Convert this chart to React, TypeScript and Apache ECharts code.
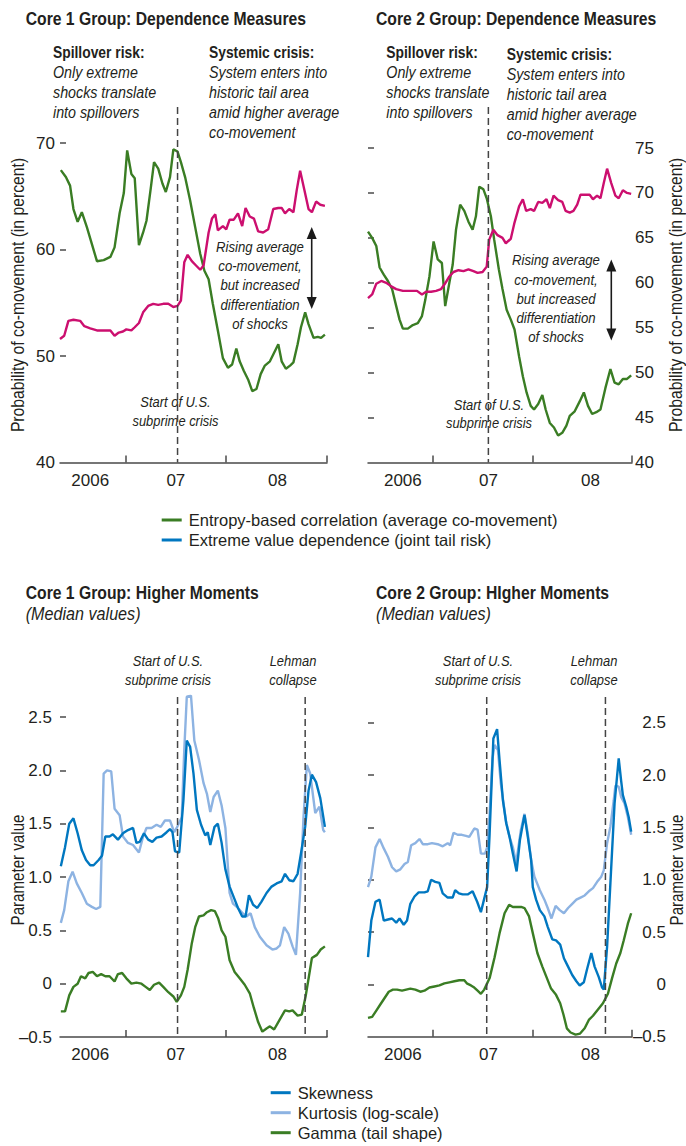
import React, { useEffect, useRef } from "react";
import * as echarts from "echarts";

const FONT = "'Liberation Sans', Arial, Helvetica, sans-serif";
const TEXT = "#231f20";
const AXIS = "#4a4a4a";
const GREEN = "#3a7d24";
const MAGENTA = "#cc0f6f";
const SKEW = "#0077c0";
const KURT = "#8db3e2";
const NARROW = 0.85;

// x axis: months counted from January 2006
const xMin = 4.2;
const xMax = 36;
const yearStarts = [12, 24, 36];
const yearLabelPosLeft = [7.8, 18, 30.1];
const yearLabelPosRight = [8.4, 18.7, 31.0];
const yearLabels = ["2006", "07", "08"];

// Core 1 – dependence measures
const c1EntropyMonths = [4.3,4.9,5.4,5.8,6.3,6.8,7.4,8.0,8.6,9.4,10.2,10.7,11.3,11.8,12.2,12.7,13.1,13.6,14.1,14.5,15.0,15.4,15.9,16.4,16.8,17.3,17.7,18.2,18.6,19.1,19.7,20.3,20.9,21.4,21.9,22.4,23.0,23.6,24.2,24.7,25.2,25.6,26.1,26.6,27.1,27.6,28.1,28.6,29.2,29.7,30.2,30.6,31.1,31.6,32.0,32.5,32.9,33.4,33.8,34.4,34.9,35.3,35.75];
const c1EntropyValues = [67.45,66.8,66.0,63.8,62.6,63.5,62.1,60.5,58.9,59.0,59.3,60.2,63.4,65.3,69.3,67.1,66.7,60.4,61.6,62.7,65.7,68.2,67.6,66.2,65.4,66.8,69.4,69.2,68.2,66.8,64.6,62.1,59.6,58.0,57.2,54.9,52.4,49.8,48.9,49.2,50.7,49.5,48.6,47.8,46.7,46.9,48.3,49.1,49.5,50.3,51.1,49.5,48.8,49.1,49.4,51.1,52.7,54.1,53.0,51.7,51.8,51.7,52.0];
const c1ExtremeMonths = [4.2,4.7,5.2,5.8,6.6,7.1,7.8,8.6,9.4,10.2,10.7,11.2,11.7,12.1,12.7,13.1,13.6,14.1,14.7,15.3,15.9,16.5,17.1,17.7,18.2,18.6,19.0,19.4,19.9,20.4,20.9,21.3,21.9,22.3,22.7,23.0,23.6,24.0,24.4,24.9,25.4,25.9,26.3,26.8,27.3,27.8,28.4,29.0,29.6,30.2,30.6,31.0,31.5,32.0,32.4,32.8,33.3,33.8,34.2,34.7,35.2,35.75];
const c1ExtremeValues = [51.6,51.9,53.3,53.4,53.3,52.8,52.6,52.4,52.4,52.4,51.9,52.2,52.3,52.5,52.4,52.7,53.1,54.1,54.7,54.9,54.8,54.9,54.9,54.6,54.7,55.2,58.8,59.5,58.9,58.5,58.1,58.5,61.6,62.9,63.3,61.8,62.2,61.9,62.8,62.8,63.4,62.2,63.9,63.1,62.9,61.7,61.6,61.9,63.8,63.9,63.9,63.4,63.8,63.5,65.6,67.4,65.6,63.8,63.5,64.5,64.2,64.1];

// Core 2 – dependence measures
const c2EntropyMonths = [4.2,4.7,5.2,5.6,6.1,6.6,7.1,7.6,8.0,8.4,9.0,9.6,10.2,10.7,11.1,11.6,12.1,12.6,13.1,13.5,14.0,14.4,14.8,15.3,15.8,16.3,16.8,17.2,17.6,18.1,18.5,19.0,19.4,19.96,20.4,20.9,21.4,21.85,22.4,22.85,23.3,23.8,24.2,24.7,25.2,25.6,26.1,26.6,27.1,27.6,28.1,28.5,29.1,29.7,30.2,30.7,31.2,31.7,32.2,32.8,33.4,33.9,34.4,34.9,35.4,35.9];
const c2EntropyValues = [65.7,65.0,64.1,61.7,60.9,60.2,59.3,57.4,55.9,54.9,54.9,55.3,55.5,56.3,58.1,60.7,64.6,62.6,62.2,57.4,60.0,62.0,65.9,68.7,68.0,66.8,65.9,67.4,70.7,70.4,69.4,67.4,64.8,61.5,59.3,57.0,55.9,54.8,51.8,49.6,47.8,46.3,45.9,46.5,47.5,45.9,44.4,43.9,43.0,43.3,44.1,45.2,45.7,46.8,47.8,46.3,45.4,45.6,45.9,48.3,50.4,48.9,48.7,49.3,49.3,49.7];
const c2ExtremeMonths = [4.2,4.7,5.2,5.8,6.4,7.0,7.6,8.4,9.2,10.1,10.7,11.2,11.8,12.4,13.0,13.4,14.0,14.5,15.1,15.7,16.3,16.9,17.4,18.0,18.5,18.8,19.3,19.8,20.4,20.8,21.4,21.85,22.4,22.85,23.25,23.8,24.2,24.7,25.2,25.7,26.1,26.55,27.1,27.6,28.0,28.5,28.95,29.4,29.8,30.4,30.9,31.3,31.8,32.2,32.6,33.0,33.5,34.0,34.4,34.9,35.4,35.9];
const c2ExtremeValues = [58.3,58.7,59.9,60.2,60.0,59.6,59.3,59.1,59.1,59.1,58.7,59.0,59.0,59.1,59.3,59.8,60.7,61.2,61.4,61.3,61.5,61.3,61.1,61.2,61.8,64.8,65.9,65.3,65.0,64.4,64.9,66.7,68.5,69.3,68.0,68.2,68.0,69.0,68.9,69.3,68.3,69.7,69.2,69.0,68.0,67.8,68.0,68.7,69.8,69.8,69.8,69.3,69.7,69.4,71.1,72.7,71.1,69.7,69.4,70.3,70.0,69.9];

// Core 1 – higher moments
const c1SkewMonths = [4.3,4.8,5.3,5.8,6.3,6.8,7.3,7.8,8.2,8.8,9.2,9.6,10.1,10.5,11.1,11.7,12.3,12.9,13.3,13.7,14.2,14.7,15.2,15.7,16.3,16.9,17.3,17.6,17.9,18.4,18.9,19.3,19.7,20.1,20.5,21.0,21.5,21.8,22.1,22.6,23.0,23.45,23.9,24.4,24.95,25.4,25.9,26.3,26.7,27.2,27.7,28.2,28.8,29.4,30.0,30.6,31.0,31.5,32.0,32.5,32.9,33.4,33.8,34.2,34.7,35.2,35.75];
const c1SkewValues = [1.10,1.28,1.50,1.55,1.41,1.25,1.16,1.11,1.11,1.16,1.20,1.38,1.38,1.40,1.35,1.41,1.44,1.46,1.32,1.33,1.41,1.35,1.33,1.37,1.38,1.42,1.45,1.42,1.24,1.23,1.72,2.28,2.22,1.97,1.63,1.49,1.39,1.42,1.30,1.47,1.50,1.32,1.07,0.91,0.80,0.71,0.63,0.63,0.83,0.74,0.71,0.77,0.85,0.91,0.94,0.96,1.03,0.97,0.96,1.03,1.22,1.47,1.81,1.96,1.89,1.74,1.47];
const c1KurtMonths = [4.3,4.7,5.2,5.7,6.2,6.8,7.4,8.0,8.5,9.0,9.4,9.8,10.3,10.7,11.3,11.7,12.3,12.9,13.6,14.1,14.5,15.1,15.7,16.2,16.7,17.3,17.8,18.1,18.7,19.0,19.3,19.8,20.2,20.75,21.3,21.7,22.1,22.5,23.0,23.45,23.9,24.4,24.8,25.4,25.95,26.4,26.9,27.4,28.0,28.8,29.5,30.0,30.4,30.9,31.4,31.9,32.3,32.8,33.2,33.6,34.0,34.6,35.1,35.55,35.75];
const c1KurtValues = [0.57,0.69,0.96,1.05,0.94,0.85,0.75,0.72,0.70,0.72,1.97,2.00,1.99,1.64,1.58,1.38,1.32,1.30,1.23,1.38,1.46,1.46,1.49,1.47,1.53,1.53,1.42,1.46,1.56,2.19,2.69,2.70,2.28,2.10,1.88,1.78,1.61,1.75,1.81,1.67,1.46,0.85,0.75,0.71,0.66,0.63,0.66,0.53,0.44,0.36,0.32,0.33,0.36,0.53,0.47,0.35,0.27,0.85,1.56,2.05,1.97,1.60,1.66,1.44,1.42];
const c1GammaMonths = [4.3,4.8,5.3,5.8,6.3,6.7,7.2,7.6,8.1,8.6,9.1,9.6,10.1,10.7,11.1,11.6,12.1,12.7,13.3,13.9,14.4,14.9,15.4,16.0,16.5,17.1,17.7,18.1,18.6,19.0,19.4,19.9,20.3,20.75,21.3,21.7,22.2,22.65,23.05,23.45,23.9,24.4,25.0,25.6,26.2,26.8,27.3,27.8,28.3,28.8,29.2,29.7,30.2,31.0,31.5,31.9,32.5,33.0,33.45,33.85,34.2,34.8,35.25,35.75];
const c1GammaValues = [-0.26,-0.26,-0.11,-0.03,0.00,0.07,0.05,0.10,0.11,0.07,0.09,0.07,0.07,0.02,0.09,0.10,0.05,0.00,0.01,0.00,-0.03,-0.06,-0.01,0.01,-0.03,-0.08,-0.12,-0.17,-0.11,-0.03,0.13,0.38,0.53,0.63,0.64,0.67,0.69,0.68,0.61,0.50,0.44,0.22,0.11,0.05,-0.01,-0.09,-0.23,-0.36,-0.45,-0.42,-0.40,-0.43,-0.36,-0.25,-0.26,-0.25,-0.30,-0.29,-0.12,0.07,0.24,0.27,0.32,0.35];

// Core 2 – higher moments
const c2SkewMonths = [4.2,4.6,5.1,5.6,6.1,6.6,7.1,7.6,8.0,8.5,8.9,9.3,9.8,10.3,11.0,11.4,11.8,12.3,12.8,13.2,13.8,14.4,14.7,15.15,15.6,16.2,16.8,17.35,17.8,18.2,18.55,18.85,19.3,19.75,20.05,20.45,20.85,21.25,21.65,22.1,22.5,23.05,23.45,23.85,24.05,24.45,24.9,25.45,25.85,26.4,26.85,27.35,27.8,28.3,28.8,29.3,29.7,30.2,30.6,31.1,31.5,32.0,32.4,32.6,33.0,33.4,33.9,34.4,34.7,34.9,35.3,35.6,35.9];
const c2SkewValues = [0.26,0.61,0.79,0.81,0.61,0.62,0.63,0.59,0.63,0.57,0.61,0.77,0.84,0.88,0.88,0.89,1.00,0.98,0.97,0.87,0.83,0.83,0.90,0.87,0.86,0.86,0.89,0.79,0.69,0.82,0.93,1.44,2.35,2.44,2.14,1.76,1.54,1.41,1.25,1.08,1.38,1.62,1.41,1.19,0.93,0.81,0.71,0.65,0.55,0.43,0.42,0.38,0.25,0.17,0.09,0.03,-0.01,0.02,0.15,0.30,0.17,0.07,-0.03,-0.05,0.36,0.97,1.73,2.16,1.94,1.81,1.70,1.60,1.46];
const c2KurtMonths = [4.2,4.6,5.1,5.6,6.1,6.6,7.1,7.6,8.1,8.6,9.0,9.4,9.9,10.4,10.8,11.4,11.9,12.6,13.2,13.8,14.1,14.5,15.0,15.5,16.0,16.4,17.0,17.4,17.8,18.3,18.55,18.85,19.2,19.45,19.85,20.2,20.8,21.25,21.65,22.05,22.6,23.05,23.45,23.85,24.25,24.9,25.45,25.85,26.3,26.8,27.3,27.8,28.3,28.8,29.3,29.8,30.3,30.8,31.3,31.8,32.3,32.6,33.0,33.4,33.8,34.0,34.4,34.7,35.1,35.5,35.9];
const c2KurtValues = [0.93,1.03,1.31,1.39,1.30,1.22,1.12,1.08,1.10,1.15,1.17,1.33,1.35,1.39,1.34,1.34,1.35,1.34,1.32,1.35,1.33,1.45,1.43,1.43,1.42,1.41,1.49,1.48,1.25,1.25,1.31,1.63,2.16,2.29,2.24,1.92,1.57,1.41,1.31,1.16,1.47,1.63,1.44,1.19,1.03,0.90,0.81,0.73,0.63,0.75,0.71,0.68,0.73,0.77,0.81,0.83,0.85,0.89,0.92,0.98,1.03,1.09,1.35,1.51,1.76,1.90,1.89,1.79,1.73,1.60,1.43];
const c2GammaMonths = [4.2,4.7,5.2,5.7,6.2,6.7,7.2,7.7,8.3,8.8,9.3,9.9,10.5,11.0,11.6,12.2,12.8,13.4,14.0,14.6,15.2,15.8,16.1,16.6,17.0,17.4,17.8,18.2,18.85,19.45,20.05,20.65,21.2,21.65,22.1,22.65,23.05,23.6,24.05,24.6,25.2,25.75,26.25,26.85,27.35,27.75,28.15,28.6,29.2,29.75,30.3,30.8,31.3,31.9,32.5,33.1,33.6,34.1,34.6,35.0,35.5,35.9];
const c2GammaValues = [-0.32,-0.31,-0.25,-0.19,-0.13,-0.07,-0.05,-0.05,-0.06,-0.05,-0.04,-0.05,-0.07,-0.06,-0.03,-0.02,-0.01,0.01,0.02,0.03,0.04,0.04,0.01,-0.01,-0.03,-0.06,-0.09,-0.05,0.06,0.26,0.49,0.68,0.76,0.74,0.74,0.74,0.73,0.65,0.49,0.30,0.17,0.06,-0.04,-0.10,-0.18,-0.29,-0.42,-0.46,-0.48,-0.47,-0.42,-0.34,-0.30,-0.24,-0.18,-0.09,0.06,0.20,0.30,0.42,0.58,0.68];

// events (months from Jan 2006), per panel as drawn
const subprimeMonth = [18.2, 18.7, 18.2, 18.5];
const lehmanMonth = [33.4, 32.8];

// y axes
const depTicksC1 = [40, 50, 60, 70];
const depTicksC2 = [40, 45, 50, 55, 60, 65, 70, 75];
const momTicks = [-0.5, 0, 0.5, 1, 1.5, 2, 2.5];

const NAME_ENT = "Entropy-based correlation (average co-movement)";
const NAME_EXT = "Extreme value dependence (joint tail risk)";
const NAME_SKEW = "Skewness";
const NAME_KURT = "Kurtosis (log-scale)";
const NAME_GAMMA = "Gamma (tail shape)";

const zip = (a: number[], b: number[]) => a.map((m, i) => [m, b[i]]);

const momLabel = (v: number) => (Math.abs(v) < 1e-9 ? "0" : v < 0 ? "\u2013" + Math.abs(v).toFixed(1) : v.toFixed(1));

function xAxisFor(gridIndex: number, labelPos: number[]) {
  return {
    type: "value",
    gridIndex,
    min: xMin,
    max: xMax,
    axisLine: { show: true, onZero: false, lineStyle: { color: AXIS, width: 1.5 } },
    axisTick: { show: true, inside: true, length: 7, customValues: yearStarts, lineStyle: { color: AXIS, width: 1.5 } },
    axisLabel: {
      customValues: labelPos,
      formatter: (v: number) => {
        const i = labelPos.findIndex((p) => Math.abs(p - v) < 0.01);
        return i >= 0 ? yearLabels[i] : "";
      },
      color: TEXT,
      fontFamily: FONT,
      fontSize: 17,
      margin: 9,
    },
    splitLine: { show: false },
  };
}

function yAxisFor(gridIndex: number, min: number, max: number, position: string, opts: any) {
  return {
    type: "value",
    gridIndex,
    min,
    max,
    position,
    axisLine: { show: false },
    axisTick: opts.ticks
      ? { show: true, inside: true, length: 6, customValues: opts.ticks, lineStyle: { color: AXIS, width: 1.5 } }
      : { show: false },
    axisLabel: opts.labels
      ? {
          show: true,
          customValues: opts.labels,
          formatter: opts.formatter,
          color: TEXT,
          fontFamily: FONT,
          fontSize: 17,
          margin: opts.margin,
          align: opts.align,
        }
      : { show: false },
    splitLine: { show: false },
  };
}

function line(name: string, data: number[][], color: string, grid: number, yIdx: number, width = 2.4) {
  return {
    type: "line",
    name,
    data,
    xAxisIndex: grid,
    yAxisIndex: yIdx,
    showSymbol: false,
    symbol: "none",
    lineStyle: { color, width },
    itemStyle: { color },
    z: 3,
  };
}

function txt(x: number, y: number, text: string, o: any = {}) {
  const align = o.align || "left";
  return {
    type: "text",
    x,
    y,
    silent: true,
    rotation: o.rotation || 0,
    scaleX: NARROW,
    style: {
      text,
      fill: TEXT,
      fontFamily: FONT,
      fontSize: o.size || 17,
      fontWeight: o.bold ? "bold" : "normal",
      fontStyle: o.italic ? "italic" : "normal",
      lineHeight: o.lh || 20,
      textAlign: align,
      align,
      textVerticalAlign: o.valign || "top",
      verticalAlign: o.valign || "top",
    },
  };
}

function arrow(x: number, y1: number, y2: number) {
  const hw = 5;
  const hl = 12;
  return [
    { type: "line", silent: true, shape: { x1: x, y1: y1 + hl - 2, x2: x, y2: y2 - hl + 2 }, style: { stroke: "#1a1a1a", lineWidth: 1.6 } },
    { type: "polygon", silent: true, shape: { points: [[x, y1], [x - hw, y1 + hl], [x + hw, y1 + hl]] }, style: { fill: "#1a1a1a" } },
    { type: "polygon", silent: true, shape: { points: [[x, y2], [x - hw, y2 - hl], [x + hw, y2 - hl]] }, style: { fill: "#1a1a1a" } },
  ];
}

const legendBase = {
  orient: "vertical",
  icon: "rect",
  itemWidth: 20,
  itemHeight: 3,
  itemGap: 0,
  padding: 0,
  selectedMode: false,
  textStyle: { fontFamily: FONT, fontSize: 16.5, color: TEXT, lineHeight: 20, padding: [0, 0, 0, 2] },
};

export default function App() {
  const ref = useRef<HTMLDivElement>(null);

  useEffect(() => {
    document.body.style.margin = "0";
    const el = ref.current!;
    const chart = echarts.init(el, null, { renderer: "svg" });

    const option: any = {
      animation: false,
      backgroundColor: "#ffffff",
      textStyle: { fontFamily: FONT },
      grid: [
        { left: 60, top: 143, width: 267, height: 319.5 },
        { left: 368, top: 148, width: 264, height: 314.5 },
        { left: 60, top: 695.7, width: 267, height: 341.3 },
        { left: 368, top: 696.7, width: 264, height: 340 },
      ],
      xAxis: [
        xAxisFor(0, yearLabelPosLeft),
        xAxisFor(1, yearLabelPosRight),
        xAxisFor(2, yearLabelPosLeft),
        xAxisFor(3, yearLabelPosRight),
      ],
      yAxis: [
        yAxisFor(0, 40, 70, "left", { ticks: [50, 60, 70], labels: depTicksC1, margin: 5 }),
        yAxisFor(1, 40, 75, "left", { ticks: depTicksC2.slice(1) }),
        yAxisFor(1, 40, 75, "right", { labels: depTicksC2, margin: 3 }),
        yAxisFor(2, -0.5, 2.7, "left", { ticks: momTicks.slice(1), labels: momTicks, margin: 8, formatter: momLabel }),
        yAxisFor(3, -0.5, 2.75, "left", { ticks: momTicks.slice(1) }),
        yAxisFor(3, -0.5, 2.75, "right", { labels: momTicks, margin: 34, align: "right", formatter: momLabel }),
      ],
      legend: [
        {
          ...legendBase,
          left: 161.7,
          top: 510,
          data: [
            { name: NAME_ENT, itemStyle: { color: GREEN } },
            { name: NAME_EXT, itemStyle: { color: SKEW } },
          ],
        },
        {
          ...legendBase,
          left: 270.7,
          top: 1082.7,
          data: [
            { name: NAME_SKEW, itemStyle: { color: SKEW } },
            { name: NAME_KURT, itemStyle: { color: KURT } },
            { name: NAME_GAMMA, itemStyle: { color: GREEN } },
          ],
        },
      ],
      series: [
        line(NAME_ENT, zip(c1EntropyMonths, c1EntropyValues), GREEN, 0, 0),
        line(NAME_EXT, zip(c1ExtremeMonths, c1ExtremeValues), MAGENTA, 0, 0),
        line(NAME_ENT, zip(c2EntropyMonths, c2EntropyValues), GREEN, 1, 1),
        line(NAME_EXT, zip(c2ExtremeMonths, c2ExtremeValues), MAGENTA, 1, 1),
        line(NAME_KURT, zip(c1KurtMonths, c1KurtValues), KURT, 2, 3),
        line(NAME_SKEW, zip(c1SkewMonths, c1SkewValues), SKEW, 2, 3),
        line(NAME_GAMMA, zip(c1GammaMonths, c1GammaValues), GREEN, 2, 3),
        line(NAME_KURT, zip(c2KurtMonths, c2KurtValues), KURT, 3, 4),
        line(NAME_SKEW, zip(c2SkewMonths, c2SkewValues), SKEW, 3, 4),
        line(NAME_GAMMA, zip(c2GammaMonths, c2GammaValues), GREEN, 3, 4),
      ],
    };
    chart.setOption(option);

    const toPx = (xi: number, yi: number, x: number, y: number) =>
      chart.convertToPixel({ xAxisIndex: xi, yAxisIndex: yi } as any, [x, y]) as number[];

    const dash = (xi: number, yi: number, month: number, yMinVal: number, topPx: number) => {
      const p = toPx(xi, yi, month, yMinVal);
      return {
        type: "line",
        silent: true,
        z: 10,
        shape: { x1: p[0], y1: topPx, x2: p[0], y2: p[1] },
        style: { stroke: "#444", lineWidth: 1.5, lineDash: [7, 4] },
      };
    };

    const graphics: any[] = [
      dash(0, 0, subprimeMonth[0], 40, 107),
      dash(1, 1, subprimeMonth[1], 40, 107),
      dash(2, 3, subprimeMonth[2], -0.5, 697),
      dash(2, 3, lehmanMonth[0], -0.5, 697),
      dash(3, 4, subprimeMonth[3], -0.5, 697),
      dash(3, 4, lehmanMonth[1], -0.5, 697),
      // titles
      txt(25.7, 8.5, "Core 1 Group: Dependence Measures", { bold: true, size: 18.5, lh: 21 }),
      txt(376, 8.5, "Core 2 Group: Dependence Measures", { bold: true, size: 18.5, lh: 21 }),
      txt(25.7, 582.5, "Core 1 Group: Higher Moments", { bold: true, size: 18.5, lh: 21 }),
      txt(25.7, 603, "(Median values)", { italic: true, size: 19, lh: 21 }),
      txt(376, 582.5, "Core 2 Group: HIgher Moments", { bold: true, size: 18.5, lh: 21 }),
      txt(376, 603, "(Median values)", { italic: true, size: 19, lh: 21 }),
      // top-left annotations
      txt(53, 42, "Spillover risk:", { bold: true, size: 16.3 }),
      txt(53, 62, "Only extreme\nshocks translate\ninto spillovers", { italic: true, size: 16.8 }),
      txt(209, 42, "Systemic crisis:", { bold: true, size: 16.3 }),
      txt(209, 62, "System enters into\nhistoric tail area\namid higher average\nco-movement", { italic: true, size: 16.8 }),
      txt(260, 237, "Rising average\nco-movement,\nbut increased\ndifferentiation\nof shocks", { italic: true, size: 15.5, lh: 19.2, align: "center" }),
      txt(175.5, 392.5, "Start of U.S.\nsubprime crisis", { italic: true, size: 15.2, lh: 18.5, align: "center" }),
      // top-right annotations
      txt(386.3, 42, "Spillover risk:", { bold: true, size: 16.3 }),
      txt(386.3, 62, "Only extreme\nshocks translate\ninto spillovers", { italic: true, size: 16.8 }),
      txt(506.7, 44, "Systemic crisis:", { bold: true, size: 16.3 }),
      txt(506.7, 64, "System enters into\nhistoric tail area\namid higher average\nco-movement", { italic: true, size: 16.8 }),
      txt(556, 250.4, "Rising average\nco-movement,\nbut increased\ndifferentiation\nof shocks", { italic: true, size: 15.5, lh: 19.2, align: "center" }),
      txt(489, 395, "Start of U.S.\nsubprime crisis", { italic: true, size: 15.2, lh: 18.5, align: "center" }),
      // bottom annotations
      txt(168, 651.5, "Start of U.S.\nsubprime crisis", { italic: true, size: 15.2, lh: 19, align: "center" }),
      txt(293, 651.5, "Lehman\ncollapse", { italic: true, size: 15.2, lh: 19, align: "center" }),
      txt(478, 651.5, "Start of U.S.\nsubprime crisis", { italic: true, size: 15.2, lh: 19, align: "center" }),
      txt(594, 651.5, "Lehman\ncollapse", { italic: true, size: 15.2, lh: 19, align: "center" }),
      // axis names
      txt(18, 295, "Probability of co-movement (in percent)", { size: 18.5, align: "center", valign: "middle", rotation: Math.PI / 2 }),
      txt(676, 295, "Probability of co-movement (in percent)", { size: 18.5, align: "center", valign: "middle", rotation: Math.PI / 2 }),
      txt(18, 870, "Parameter value", { size: 17.8, align: "center", valign: "middle", rotation: Math.PI / 2 }),
      txt(677, 870, "Parameter value", { size: 17.8, align: "center", valign: "middle", rotation: Math.PI / 2 }),
      ...arrow(311.7, 227, 309),
      ...arrow(611.3, 259.5, 340.5),
    ];
    chart.setOption({ graphic: graphics });

    return () => chart.dispose();
  }, []);

  return <div ref={ref} style={{ width: 686, height: 1146 }} />;
}
